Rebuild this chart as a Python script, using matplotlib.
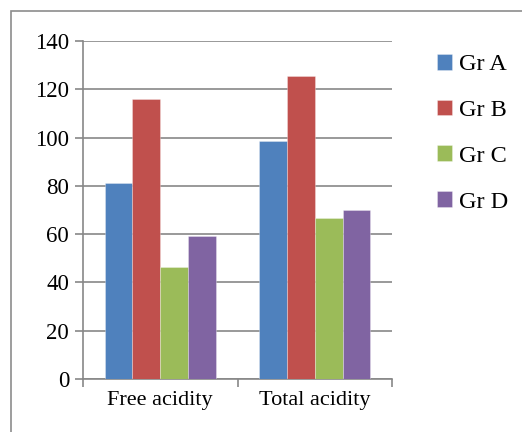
import matplotlib
matplotlib.use("Agg")
import matplotlib.pyplot as plt
from matplotlib.patches import Rectangle
import numpy as np

categories = ["Free acidity", "Total acidity"]
series_names = ["Gr A", "Gr B", "Gr C", "Gr D"]
gr_a = [81.3, 98.5]
gr_b = [115.9, 125.6]
gr_c = [46.4, 66.8]
gr_d = [59.2, 70.0]
yticks = [0, 20, 40, 60, 80, 100, 120, 140]

colors = ["#4F81BD", "#C0504D", "#9BBB59", "#8064A2"]
plt.rcParams['font.family'] = ['Liberation Serif', 'DejaVu Serif']

fig = plt.figure(figsize=(5.22, 4.32), dpi=100)
ax = fig.add_axes([83/522, 1-379/432, (392-83)/522, (379-41)/432])

# outer border
fig.patches.append(Rectangle((11/522, -0.1), 1.2, 1-11/432+0.1, transform=fig.transFigure,
                             fill=False, edgecolor="#8c8c8c", linewidth=1.2, zorder=0))

x = np.arange(len(categories))
w = 0.18
allv = [gr_a, gr_b, gr_c, gr_d]
for i, (name, vals) in enumerate(zip(series_names, allv)):
    ax.bar(x + (i - 1.5) * w, vals, w, color=colors[i], label=name,
           edgecolor=(1, 1, 1, 0.35), linewidth=0.6, zorder=3)

ax.set_xlim(-0.5, 1.5)
ax.set_ylim(0, 140)
ax.set_yticks(yticks)
ax.set_yticklabels([str(v) for v in yticks], fontsize=16.5)
ax.yaxis.grid(True, color="#878787", linewidth=1.2, zorder=0)
ax.set_axisbelow(True)
ax.set_xticks(x)
ax.set_xticklabels(categories, fontsize=16)
ax.tick_params(axis='x', which='major', length=0, pad=9)
ax.set_xticks([-0.5, 0.5, 1.5], minor=True)
ax.tick_params(axis='x', which='minor', length=6, color="#878787", width=1.2)
ax.tick_params(axis='y', length=6, color="#878787", width=1.2, pad=4)
for s in ['top', 'right']:
    ax.spines[s].set_visible(False)
for s in ['left', 'bottom']:
    ax.spines[s].set_color("#878787")
    ax.spines[s].set_linewidth(1.2)

leg = fig.legend(loc='upper left', bbox_to_anchor=(415/522, 1-32/432), frameon=False,
                 fontsize=17.5, handlelength=0.62, handleheight=0.62, handletextpad=0.3,
                 labelspacing=1.0)

fig.savefig("out.png", dpi=100)
